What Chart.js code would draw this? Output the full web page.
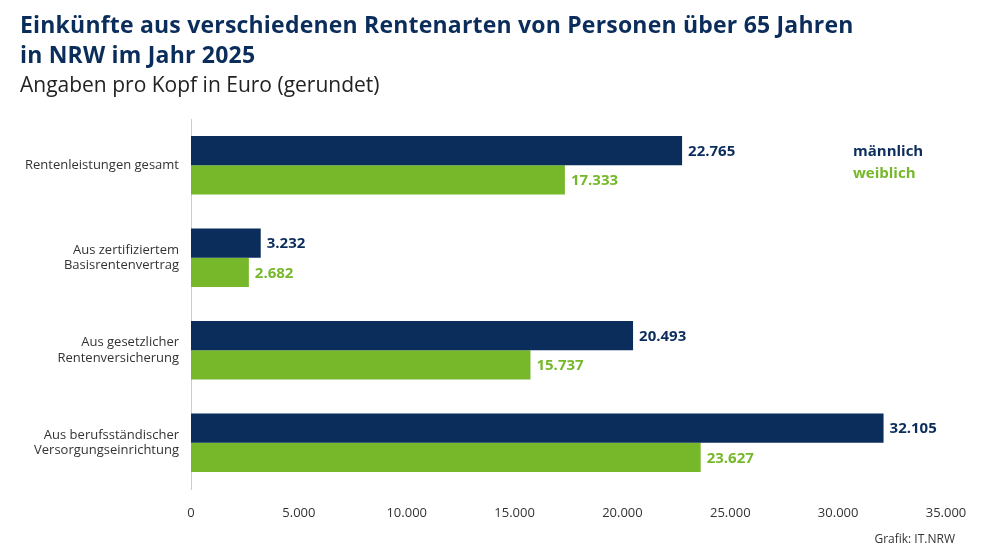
<!DOCTYPE html>
<html>
<head>
<meta charset="utf-8">
<script src="https://cdn.jsdelivr.net/npm/chart.js@4"></script>
<style>
  body { margin:0; background:#fff; font-family:'Open Sans', sans-serif; }
  #wrap { position:relative; width:999px; height:559px; }
  #title { position:absolute; left:20px; top:9px; font-size:23px; font-weight:bold; color:#0b2d5b; line-height:30px; letter-spacing:0.2px; }
  #sub { position:absolute; left:20px; top:70px; font-size:21px; color:#222; }
  #src { position:absolute; right:44px; top:530px; font-size:12px; color:#333; }
  .leg { position:absolute; left:853px; font-size:15px; font-weight:bold; }
  canvas { position:absolute; left:0; top:0; }
</style>
</head>
<body>
<div id="wrap">
  <canvas id="chart" width="999" height="559"></canvas>
  <div id="title">Einkünfte aus verschiedenen Rentenarten von Personen über 65 Jahren<br>in NRW im Jahr 2025</div>
  <div id="sub">Angaben pro Kopf in Euro (gerundet)</div>
  <div class="leg" style="top:140px;color:#0b2d5b">männlich</div>
  <div class="leg" style="top:162px;color:#76b82a">weiblich</div>
  <div id="src">Grafik: IT.NRW</div>
</div>
<script>
const categories = [
  'Rentenleistungen gesamt',
  ['Aus zertifiziertem', 'Basisrentenvertrag'],
  ['Aus gesetzlicher', 'Rentenversicherung'],
  ['Aus berufsständischer', 'Versorgungseinrichtung']
];
const maennlich = [22765, 3232, 20493, 32105];
const weiblich = [17333, 2682, 15737, 23627];
const navy = '#0b2d5b';
const green = '#76b82a';

const fmt = v => v.toLocaleString('de-DE');

// Werte rechts neben die Balken schreiben
const valueLabels = {
  id: 'valueLabels',
  afterDatasetsDraw(chart) {
    const ctx = chart.ctx;
    ctx.save();
    ctx.font = 'bold 15px "Open Sans"';
    ctx.textBaseline = 'middle';
    chart.data.datasets.forEach((ds, i) => {
      ctx.fillStyle = ds.backgroundColor;
      chart.getDatasetMeta(i).data.forEach((bar, j) => {
        ctx.fillText(fmt(ds.data[j]), bar.x + 6, bar.y + 1);
      });
    });
    ctx.restore();
  }
};

new Chart(document.getElementById('chart').getContext('2d'), {
  type: 'bar',
  data: {
    labels: categories,
    datasets: [
      { label: 'männlich', data: maennlich, backgroundColor: navy },
      { label: 'weiblich', data: weiblich, backgroundColor: green }
    ]
  },
  options: {
    indexAxis: 'y',
    responsive: false,
    animation: false,
    datasets: { bar: { barPercentage: 1, categoryPercentage: 0.63 } },
    layout: { padding: { top: 119, right: 53, left: 0, bottom: 0 } },
    plugins: { legend: { display: false }, tooltip: { enabled: false } },
    scales: {
      x: {
        min: 0, max: 35000,
        ticks: { stepSize: 5000, callback: v => fmt(v), color: '#333', font: { size: 13, family: 'Open Sans' }, padding: 8 },
        grid: { display: false, drawTicks: true },
        border: { display: false },
        afterFit: s => { s.height = 70; }
      },
      y: {
        ticks: { color: '#333', font: { size: 13, family: 'Open Sans' }, padding: 4, lineHeight: 1.5 },
        grid: { display: false },
        border: { color: '#ccc' },
        afterFit: s => { s.width = 191; }
      }
    }
  },
  plugins: [valueLabels]
});
</script>
</body>
</html>
